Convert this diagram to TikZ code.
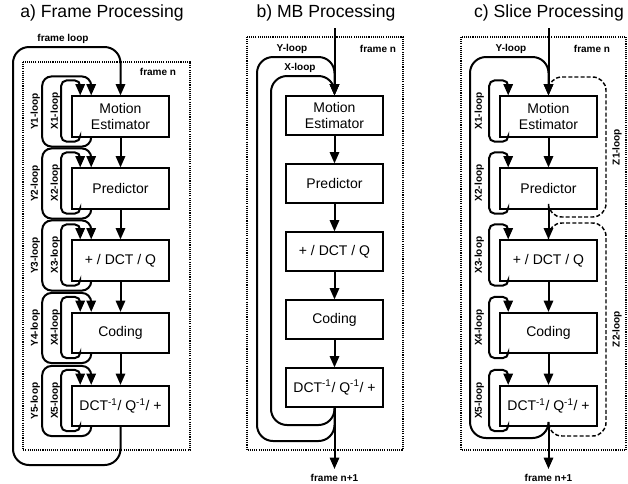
\documentclass[tikz,border=0pt]{standalone}
\usepackage{fontspec}
\setmainfont{Liberation Sans}
\usetikzlibrary{arrows.meta,calc}
\begin{document}
\begin{tikzpicture}[x=0.75pt,y=-0.75pt,
 box/.style={draw,line width=1.2pt,minimum width=72.75pt,minimum height=30.4pt,inner sep=0pt,font=\fontsize{10.5}{12}\selectfont,align=center},
 boxb/.style={box,minimum height=28.9pt},
 conn/.style={line width=1.5pt},
 arr/.style={conn,-{Triangle[length=8.5pt,width=7pt]}},
 zloop/.style={line width=1.1pt,dash pattern=on 3pt off 1.6pt},
 frm/.style={line width=0.9pt,dash pattern=on 0.8pt off 0.8pt},
 lbl/.style={font=\bfseries\fontsize{7.5}{8}\selectfont,inner sep=0pt},
 ttl/.style={font=\fontsize{13.2}{14}\selectfont,inner sep=0pt}]
\useasboundingbox (0,0) rectangle (628,483);

% ---------- panel a ----------
\node[ttl] (ta) at (102,13) {a) Frame Processing};
\draw[frm] (23,62) rectangle (190,450);
\node[box] (ame) at (120.5,116.5) {Motion\\Estimator};
\node[box] (apr) at (120.5,188.5) {Predictor};
\node[box] (aq)  at (120.5,260.5) {+ / DCT / Q};
\node[box] (aco) at (120.5,333) {Coding};
\node[box] (aiq) at (120.5,406) {DCT\textsuperscript{-1}/ Q\textsuperscript{-1}/ +};
\draw[arr] (ame) -- (apr);
\draw[arr] (apr) -- (aq);
\draw[arr] (aq) -- (aco);
\draw[arr] (aco) -- (aiq);
\foreach \n/\i in {ame/1,apr/2,aq/3,aco/4,aiq/5}{
  \draw[arr,rounded corners=4] ($(\n.south west)+(9,0)$) |- ($(\n.south west)+(-10,4)$) |- ($(\n.north west)+(9,-15)$) -- ($(\n.north west)+(9,0)$);
  \draw[arr,rounded corners=7] ($(\n.south west)+(20,0)$) |- ($(\n.south west)+(-29,9)$) |- ($(\n.north west)+(20,-19)$) -- ($(\n.north west)+(20,0)$);
  \node[lbl,rotate=90] (ax\i) at ($(\n.west)+(-16,-5.5)$) {X\i-loop};
  \node[lbl,rotate=90] (ay\i) at ($(\n.west)+(-36,-5)$) {Y\i-loop};
}
\coordinate (afl1) at (13,465);
\coordinate (afl2) at (13,47);
\draw[arr,rounded corners=12] (aiq.south) |- (afl1) -- (afl2) -| (ame.north);
\node[lbl] (aflt) at (63,39) {frame loop};
\node[lbl] (afn) at (158,72) {frame n};

% ---------- panel b ----------
\node[ttl] (tb) at (326,13) {b) MB Processing};
\draw[frm] (247,37) rectangle (403,450);
\node[boxb] (bme) at (334.5,115.5) {Motion\\Estimator};
\node[boxb] (bpr) at (334.5,183.5) {Predictor};
\node[boxb] (bq)  at (334.5,251.5) {+ / DCT / Q};
\node[boxb] (bco) at (334.5,319.5) {Coding};
\node[boxb] (biq) at (334.5,387.5) {DCT\textsuperscript{-1}/ Q\textsuperscript{-1}/ +};
\coordinate (bin) at (334.5,28);
\coordinate (bout) at (334.5,469);
\draw[arr] (bin) -- (bme);
\draw[arr] (bme) -- (bpr);
\draw[arr] (bpr) -- (bq);
\draw[arr] (bq) -- (bco);
\draw[arr] (bco) -- (biq);
\draw[arr] (biq) -- (bout);
\coordinate (by1) at (257,441);
\coordinate (by2) at (257,57);
\coordinate (bx1) at (271,425);
\coordinate (bx2) at (271,76);
\draw[arr,rounded corners=12] (biq.south) |- (by1) -- (by2) -| (bme.north);
\draw[arr,rounded corners=12] (biq.south) |- (bx1) -- (bx2) -| (bme.north);
\node[lbl] (byl) at (292,49) {Y-loop};
\node[lbl] (bxl) at (300,68) {X-loop};
\node[lbl] (bfn) at (378,49) {frame n};
\node[lbl] (bfo) at (334.5,478) {frame n+1};

% ---------- panel c ----------
\node[ttl] (tc) at (549,13) {c) Slice Processing};
\draw[frm] (461,37) rectangle (626,450);
\node[box] (cme) at (548.5,116.5) {Motion\\Estimator};
\node[box] (cpr) at (548.5,188.5) {Predictor};
\node[box] (cq)  at (548.5,260.5) {+ / DCT / Q};
\node[box] (cco) at (548.5,333) {Coding};
\node[box] (ciq) at (548.5,406) {DCT\textsuperscript{-1}/ Q\textsuperscript{-1}/ +};
\coordinate (cin) at (548.5,28);
\coordinate (cout) at (548.5,469);
\draw[arr] (cin) -- (cme);
\draw[arr] (cme) -- (cpr);
\draw[arr] (cpr) -- (cq);
\draw[arr] (cq) -- (cco);
\draw[arr] (cco) -- (ciq);
\draw[arr] (ciq) -- (cout);
\foreach \n/\i in {cme/1,cpr/2,cq/3,cco/4,ciq/5}{
  \draw[arr,rounded corners=4] ($(\n.south west)+(9,0)$) |- ($(\n.south west)+(-10,4)$) |- ($(\n.north west)+(9,-15)$) -- ($(\n.north west)+(9,0)$);
  \node[lbl,rotate=90] (cx\i) at ($(\n.west)+(-20,-5.5)$) {X\i-loop};
}
\coordinate (cy1) at (470,438);
\coordinate (cy2) at (470,57);
\draw[arr,rounded corners=12] (ciq.south) |- (cy1) -- (cy2) -| (cme.north);
\coordinate (cz1) at (606,217);
\coordinate (cz2) at (606,77);
\coordinate (cz3) at (606,436);
\coordinate (cz4) at (606,223);
\draw[zloop,rounded corners=10] (cpr.south) |- (cz1) -- (cz2) -| (cme.north);
\draw[zloop,rounded corners=10] (ciq.south) |- (cz3) -- (cz4) -| (cq.north);
\node[lbl] (cyl) at (511,49) {Y-loop};
\node[lbl] (cfn) at (592,49) {frame n};
\node[lbl,rotate=90] (cz1l) at (617,147) {Z1-loop};
\node[lbl,rotate=90] (cz2l) at (617,329) {Z2-loop};
\node[lbl] (cfo) at (548.5,478) {frame n+1};
\end{tikzpicture}
\end{document}
